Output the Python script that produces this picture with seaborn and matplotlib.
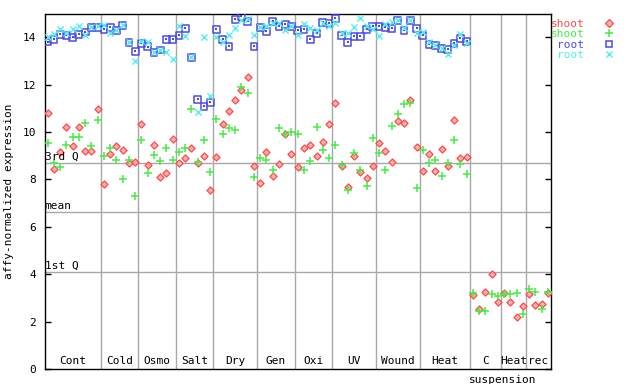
import numpy as np
import pandas as pd
import matplotlib
matplotlib.use("Agg")
import matplotlib.pyplot as plt
import seaborn as sns
from matplotlib.lines import Line2D

groups = ["Cont", "Cold", "Osmo", "Salt", "Dry", "Gen", "Oxi", "UV", "Wound", "Heat", "C", "Heat", "rec"]
group_sizes = [9, 6, 6, 6, 7, 6, 6, 7, 7, 8, 5, 4, 4]

shoot_a = [10.79, 8.43, 9.14, 10.2, 9.4, 10.2, 9.18, 9.18, 10.96,
           7.79, 9.06, 9.4, 9.23, 8.68, 8.72,
           10.32, 8.6, 9.44, 8.09, 8.26, 9.69,
           8.68, 8.89, 9.31, 8.68, 8.97, 7.54,
           8.93, 10.32, 10.87, 11.34, 11.76, 12.31, 8.55,
           7.84, 9.14, 8.13, 8.64, 9.9, 9.06,
           8.51, 9.31, 9.44, 8.97, 9.57, 10.32,
           11.21, 8.55, 7.67, 9.0, 8.3, 8.05, 8.55,
           9.52, 9.18, 8.72, 10.45, 10.37, 11.34, 9.35,
           8.34, 9.06, 8.34, 9.27, 8.55, 10.49, 8.89, 8.93,
           3.11, 2.52, 3.24, 4.0, 2.81,
           3.19, 2.81, 2.18, 2.65,
           3.15, 2.69, 2.73, 3.19]
shoot_b = [9.52, 8.68, 8.51, 9.44, 9.78, 9.78, 10.37, 9.4, 10.49,
           8.97, 9.31, 8.81, 8.0, 8.81, 7.29,
           9.65, 8.26, 9.02, 8.76, 9.31, 8.81,
           9.14, 9.31, 10.96, 8.72, 9.65, 8.3,
           10.54, 9.9, 10.16, 10.07, 11.89, 11.63, 8.09,
           8.89, 8.81, 8.38, 10.16, 9.9, 9.99,
           9.9, 8.38, 8.76, 10.2, 9.23, 8.89,
           9.44, 8.6, 7.54, 9.1, 8.38, 7.71, 9.73,
           9.1, 8.38, 10.24, 10.75, 11.17, 11.21, 7.62,
           9.23, 8.68, 8.81, 8.13, 8.68, 9.65, 8.64, 8.22,
           3.19, 2.43, 2.43, 3.15, 3.07,
           3.15, 3.15, 3.19, 2.31,
           3.36, 3.24, 2.52, 3.24]
root_a = [13.8, 13.91, 14.13, 14.08, 14.0, 14.13, 14.22, 14.42, 14.42,
          14.33, 14.42, 14.29, 14.5, 13.78, 13.4,
          13.74, 13.6, 13.36, 13.46, 13.91, 13.91,
          14.08, 14.37, 13.14, 11.38, 11.08, 11.25,
          14.33, 13.91, 13.62, 14.75, 14.88, 14.67, 13.62,
          14.42, 14.25, 14.67, 14.46, 14.54, 14.46,
          14.29, 14.33, 13.91, 14.16, 14.63, 14.59,
          14.8, 14.08, 13.78, 14.03, 14.03, 14.33, 14.46,
          14.46, 14.42, 14.37, 14.71, 14.29, 14.71, 14.37,
          14.08, 13.7, 13.66, 13.53, 13.49, 13.74, 13.95, 13.83] + [np.nan] * 13
root_b = [14.02, 14.13, 14.33, 14.16, 14.36, 14.47, 14.1, 14.44, 14.47,
          14.5, 14.16, 14.3, 14.5, 13.78, 13.0,
          13.85, 13.8, 13.36, 13.46, 13.36, 13.07,
          14.47, 14.03, 13.15, 10.83, 14.0, 11.5,
          14.0, 13.78, 14.08, 14.37, 14.71, 14.75, 14.08,
          14.45, 14.46, 14.59, 14.59, 14.29, 14.46,
          14.08, 14.54, 14.37, 14.29, 14.6, 14.46,
          14.59, 14.16, 14.16, 14.42, 14.8, 14.46, 14.33,
          14.03, 14.54, 14.63, 14.71, 14.37, 14.71, 14.16,
          14.2, 13.78, 13.66, 13.55, 13.28, 13.66, 14.12, 13.74] + [np.nan] * 13

q3_value = 8.68
mean_value = 6.61
q1_value = 4.08
yticks = [0, 2, 4, 6, 8, 10, 12, 14]

RED = "#ff4a4a"
GREEN = "#44ee44"
BLUE = "#4a4aee"
CYAN = "#55eeee"
GRID = "#a8a8a8"
FONT = "DejaVu Sans Mono"

n = len(shoot_a)
idx = np.arange(n)
df = pd.DataFrame({"sample": idx, "shoot_a": shoot_a, "shoot_b": shoot_b,
                   "root_a": root_a, "root_b": root_b})

plt.rcParams["font.family"] = [FONT, "DejaVu Sans"]
fig = plt.figure(figsize=(6.4, 3.84), dpi=100)
ax = fig.add_axes([44.5 / 640, 1 - 369 / 384, (551 - 44.5) / 640, (369 - 13.5) / 384])

# group separators and reference lines
bounds = np.cumsum(group_sizes)[:-1] - 0.5
for b in bounds:
    ax.axvline(b, color=GRID, lw=1, zorder=1)
for v in (q3_value, mean_value, q1_value):
    ax.axhline(v, color=GRID, lw=1, zorder=1)

sns.scatterplot(data=df, x="sample", y="shoot_a", ax=ax, marker="D", s=13,
                facecolor="#ffb0b0", edgecolor=RED, linewidth=0.9, zorder=3)
sns.scatterplot(data=df, x="sample", y="shoot_b", ax=ax, marker="+", s=28,
                color=GREEN, linewidth=1.1, zorder=4)
sns.scatterplot(data=df, x="sample", y="root_a", ax=ax, marker="s", s=24,
                facecolor="none", edgecolor=BLUE, linewidth=1.1, zorder=5)
sns.scatterplot(data=df, x="sample", y="root_a", ax=ax, marker="s", s=1.2,
                color=BLUE, edgecolor=BLUE, linewidth=0, zorder=5)
sns.scatterplot(data=df, x="sample", y="root_b", ax=ax, marker="x", s=20,
                color=CYAN, linewidth=1.0, zorder=6)

ax.set_xlim(-0.5, n - 0.5)
ax.set_ylim(0, 15)
ax.set_xticks([])
ax.set_yticks(yticks)
ax.set_yticklabels([str(t) for t in yticks], fontsize=8, family=FONT)
ax.tick_params(axis="y", direction="in", length=4, width=1, left=True, right=True, pad=6)
ax.set_xlabel("")
ax.set_ylabel("affy-normalized expression", fontsize=8, family=FONT, labelpad=6)
for sp in ax.spines.values():
    sp.set_color("black")
    sp.set_linewidth(1)

# reference line labels
for v, lab in ((q3_value, "3rd Q"), (mean_value, "mean"), (q1_value, "1st Q")):
    ax.text(-0.45, v + 0.05, lab, fontsize=8, family=FONT, ha="left", va="bottom", zorder=7)

# group labels
starts = np.concatenate([[0], np.cumsum(group_sizes)[:-1]])
for g, st, sz in zip(groups, starts, group_sizes):
    ax.text(st - 0.5 + sz / 2, 0.12, g, fontsize=8, family=FONT, ha="center", va="bottom")
ax.text(72.7, -0.25, "suspension", fontsize=8, family=FONT, ha="center", va="top", clip_on=False)

# legend
handles = [
    Line2D([], [], ls="none", marker="D", ms=3.7, mfc="#ffb0b0", mec=RED, mew=0.9),
    Line2D([], [], ls="none", marker="+", ms=5.3, color=GREEN, mew=1.1),
    Line2D([], [], ls="none", marker="s", ms=4.9, mfc="none", mec=BLUE, mew=1.1),
    Line2D([], [], ls="none", marker="x", ms=4.5, color=CYAN, mew=1.0),
]
fig.legend(handles, ["shoot", "shoot", "root", "root"], loc="upper left",
           bbox_to_anchor=(545 / 640, 1 - 13 / 384), frameon=False, markerfirst=False,
           labelcolor=[RED, GREEN, BLUE, CYAN], prop={"family": FONT, "size": 8},
           borderpad=0, labelspacing=0.05, handletextpad=1.2, handlelength=2.0)

fig.savefig("out.png", dpi=100)
